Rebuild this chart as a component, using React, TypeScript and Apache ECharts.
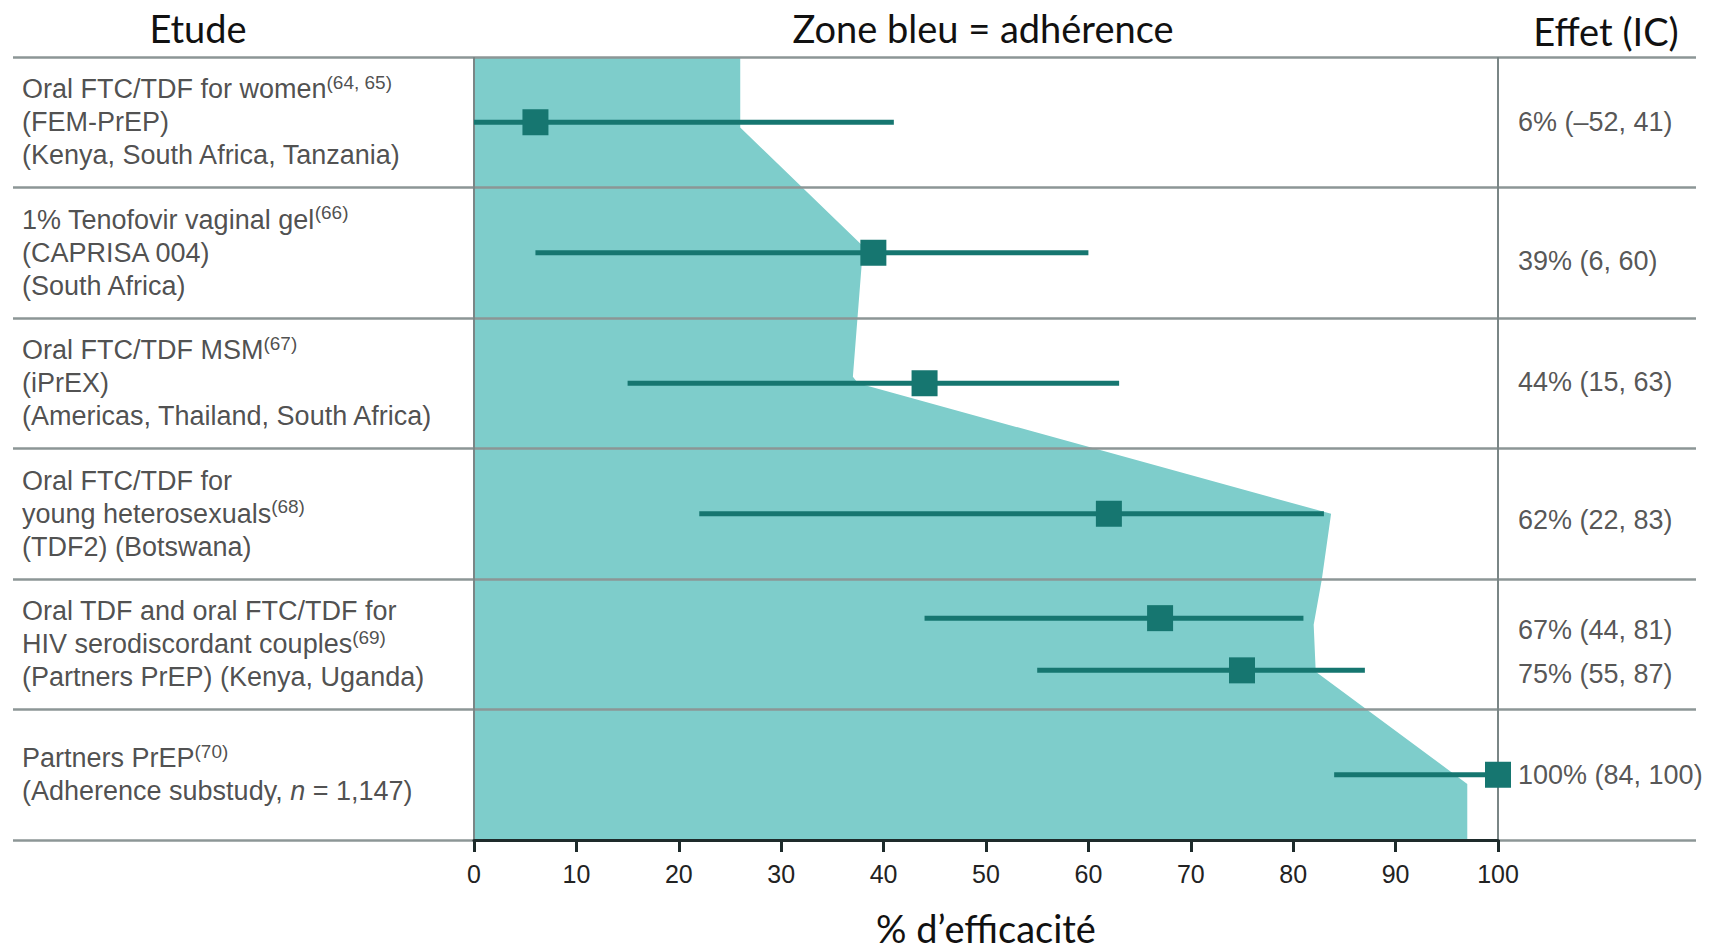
import React, { useEffect, useRef } from 'react';
import * as echarts from 'echarts';

// ---------- data ----------
const studyLabels = [
  'Oral FTC/TDF for women{sup|(64, 65)}\n(FEM-PrEP)\n(Kenya, South Africa, Tanzania)',
  '1% Tenofovir vaginal gel{sup|(66)}\n(CAPRISA 004)\n(South Africa)',
  'Oral FTC/TDF MSM{sup|(67)}\n(iPrEX)\n(Americas, Thailand, South Africa)',
  'Oral FTC/TDF for\nyoung heterosexuals{sup|(68)}\n(TDF2) (Botswana)',
  'Oral TDF and oral FTC/TDF for\nHIV serodiscordant couples{sup|(69)}\n(Partners PrEP) (Kenya, Uganda)',
  'Partners PrEP{sup|(70)}\n(Adherence substudy, {it|n} = 1,147)',
];
const studyRows = [0.5, 1.5, 2.5, 3.5, 4.5, 5.5];

const estimates = [6, 39, 44, 62, 67, 75, 100];
const lowerCI = [-52, 6, 15, 22, 44, 55, 84];
const upperCI = [41, 60, 63, 83, 81, 87, 100];
const barRows = [0.5, 1.5, 2.5, 3.5, 4.3, 4.7, 5.5];
const effectLabelRows = [0.5, 1.56, 2.49, 3.55, 4.39, 4.73, 5.5];

// adherence zone outline (x = % adherence, row position)
const adherenceX = [0, 26, 26, 38, 37, 37.5, 83.7, 82.8, 82, 82.2, 97, 97, 0];
const adherenceRow = [0, 0, 0.54, 1.45, 2.45, 2.5, 3.5, 4.0, 4.35, 4.71, 5.57, 6, 6];

const xMin = 0;
const xMax = 100;
const xStep = 10;
const rowCount = 6;

const titles = ['Etude', 'Zone bleu = adhérence', 'Effet (IC)'];
const xAxisName = '% d\u2019efficacité';

const fmtCI = (v: number) => (v < 0 ? '\u2013' + -v : String(v));

export default function App() {
  const ref = useRef<HTMLDivElement>(null);

  useEffect(() => {
    document.body.style.margin = '0';
    const chart = echarts.init(ref.current!, null, { renderer: 'svg' });
    const teal = '#167670';
    const option: any = {
      animation: false,
      backgroundColor: '#ffffff',
      grid: [
        { left: 13, right: 23, top: 57, bottom: 111, containLabel: false, outerBoundsMode: 'none' },
        { left: 474, right: 221, top: 57, bottom: 111, containLabel: false, outerBoundsMode: 'none' },
      ],
      xAxis: [
        { gridIndex: 0, type: 'value', min: 0, max: 1, show: false },
        {
          gridIndex: 1,
          type: 'value',
          min: xMin,
          max: xMax,
          interval: xStep,
          position: 'bottom',
          z: 8,
          axisLine: { show: true, onZero: false, lineStyle: { color: '#1e2b2b', width: 3 } },
          axisTick: { show: true, length: 12, lineStyle: { color: '#1e2b2b', width: 3 } },
          axisLabel: { fontFamily: 'Liberation Sans', fontSize: 25, color: '#222', margin: 21 },
          splitLine: { show: false },
          name: xAxisName,
          nameLocation: 'middle',
          nameGap: 69,
          nameTextStyle: { fontFamily: 'Lato', fontSize: 38, color: '#111' },
        },
      ],
      yAxis: [
        {
          gridIndex: 0,
          type: 'value',
          min: 0,
          max: rowCount,
          interval: 1,
          inverse: true,
          z: 3,
          axisLine: { show: false },
          axisTick: { show: false },
          axisLabel: { show: false },
          splitLine: { show: true, lineStyle: { color: '#8c9696', width: 2.5 } },
        },
        { gridIndex: 1, type: 'value', min: 0, max: rowCount, inverse: true, show: false },
      ],
      graphic: [
        {
          type: 'text', x: 198, y: 28, z: 10,
          style: { text: titles[0], font: '38px Lato', fill: '#111', textAlign: 'center', textVerticalAlign: 'middle' },
        },
        {
          type: 'text', x: 983, y: 28, z: 10,
          style: { text: titles[1], font: '38px Lato', fill: '#111', textAlign: 'center', textVerticalAlign: 'middle' },
        },
        {
          type: 'text', x: 1606, y: 31, z: 10,
          style: { text: titles[2], font: '38px Lato', fill: '#111', textAlign: 'center', textVerticalAlign: 'middle' },
        },
      ],
      series: [
        // adherence zone
        {
          type: 'custom',
          xAxisIndex: 1,
          yAxisIndex: 1,
          z: 1,
          silent: true,
          clip: false,
          data: [[0, 0]],
          encode: { x: 0, y: 1 },
          renderItem: (params: any, api: any) => {
            const pts = adherenceX.map((x, i) => api.coord([x, adherenceRow[i]]));
            return { type: 'polygon', shape: { points: pts }, style: { fill: '#7ecdcb' } };
          },
        },
        // study labels (left column)
        {
          type: 'scatter',
          xAxisIndex: 0,
          yAxisIndex: 0,
          symbolSize: 0,
          silent: true,
          z: 10,
          data: studyRows.map((r) => [0, r]),
          label: {
            show: true,
            position: 'right',
            distance: 9,
            align: 'left',
            verticalAlign: 'middle',
            formatter: (p: any) => studyLabels[p.dataIndex],
            fontFamily: 'Liberation Sans',
            fontSize: 27,
            lineHeight: 33,
            color: '#222',
            rich: {
              sup: { fontFamily: 'Liberation Sans', fontSize: 19, lineHeight: 20, verticalAlign: 'top', color: '#222' },
              it: { fontFamily: 'Liberation Sans', fontSize: 27, lineHeight: 33, fontStyle: 'italic', color: '#222' },
            },
          },
        },
        // effect labels + reference lines at 0 and 100
        {
          type: 'scatter',
          xAxisIndex: 1,
          yAxisIndex: 1,
          symbolSize: 0,
          silent: true,
          z: 4,
          clip: false,
          data: effectLabelRows.map((r) => [xMax, r]),
          label: {
            show: true,
            position: 'right',
            distance: 20,
            align: 'left',
            verticalAlign: 'middle',
            formatter: (p: any) => {
              const i = p.dataIndex;
              return `${estimates[i]}% (${fmtCI(lowerCI[i])}, ${fmtCI(upperCI[i])})`;
            },
            fontFamily: 'Liberation Sans',
            fontSize: 27,
            color: '#2a2a2a',
          },
          markLine: {
            silent: true,
            symbol: ['none', 'none'],
            label: { show: false },
            lineStyle: { color: '#7a8686', width: 2, type: 'solid' },
            data: [{ xAxis: xMin }, { xAxis: xMax }],
          },
        },
        // confidence intervals
        {
          type: 'custom',
          xAxisIndex: 1,
          yAxisIndex: 1,
          z: 5,
          silent: true,
          clip: false,
          data: estimates.map((_, i) => [lowerCI[i], upperCI[i], barRows[i]]),
          encode: { x: [0, 1], y: 2 },
          renderItem: (params: any, api: any) => {
            const lo = api.coord([Math.max(api.value(0), xMin), api.value(2)]);
            const hi = api.coord([Math.min(api.value(1), xMax), api.value(2)]);
            return {
              type: 'line',
              shape: { x1: lo[0], y1: lo[1], x2: hi[0], y2: hi[1] },
              style: { stroke: teal, lineWidth: 5 },
            };
          },
        },
        // point estimates
        {
          type: 'scatter',
          xAxisIndex: 1,
          yAxisIndex: 1,
          z: 6,
          silent: true,
          clip: false,
          symbol: 'rect',
          symbolSize: 26,
          itemStyle: { color: teal, opacity: 1 },
          data: estimates.map((e, i) => [e, barRows[i]]),
        },
      ],
    };
    chart.setOption(option);
    return () => chart.dispose();
  }, []);

  return (
    <div
      ref={ref}
      style={{ position: 'fixed', left: 0, top: 0, width: 1719, height: 951, background: '#fff' }}
    />
  );
}
